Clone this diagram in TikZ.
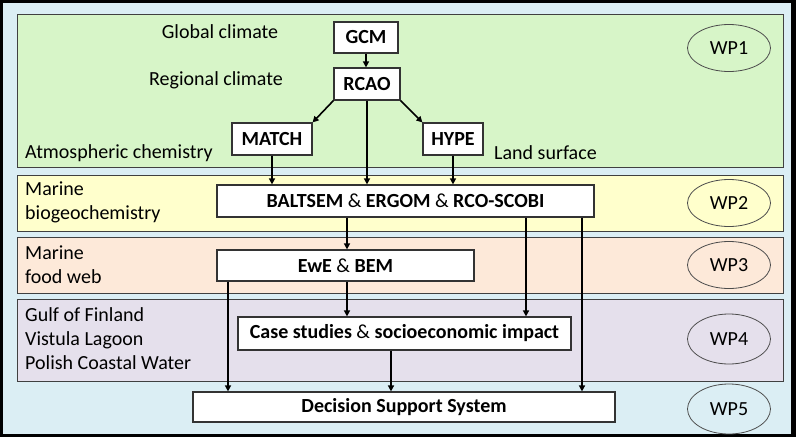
\documentclass[tikz,border=0pt]{standalone}
\usepackage{fontspec}
\setmainfont{Carlito}
\usetikzlibrary{arrows.meta,shapes.geometric}
\definecolor{bgblue}{RGB}{219,238,244}
\definecolor{wpgreen}{RGB}{215,245,200}
\definecolor{wpyellow}{RGB}{255,255,204}
\definecolor{wppeach}{RGB}{253,233,217}
\definecolor{wppurple}{RGB}{229,224,236}
\newcommand{\wpfont}{\fontsize{20}{24}\selectfont}
\tikzset{
	band/.style={draw=black!75, line width=0.8pt},
	model/.style={draw=black!80, fill=white, line width=1.2pt, font=\wpfont\bfseries, inner sep=0pt},
	wp/.style={ellipse, draw=black!70, line width=0.8pt, minimum width=83pt, minimum height=47pt, inner sep=0pt},
	flow/.style={line width=1.6pt, -{Triangle[length=6pt,width=6pt]}},
	lbl/.style={align=left, inner sep=0pt}
}

\begin{document}
\begin{tikzpicture}[x=1pt, y=-1pt, font=\wpfont]
		%%%%% START %%%%%
		
		\fill[black] (0, 0) rectangle (796, 437);
		\fill[bgblue] (3, 3) rectangle (791, 434);
		\useasboundingbox (0, 0) rectangle (796, 437);
		
		% work package bands
		\draw[band, fill=wpgreen] (17, 14) rectangle (783, 167);
		\draw[band, fill=wpyellow] (17, 175) rectangle (783, 231);
		\draw[band, fill=wppeach] (17, 237) rectangle (783, 293);
		\draw[band, fill=wppurple] (17, 299) rectangle (783, 381);
		
		\node[wp] (wp1) at (729, 48) {WP1};
		\node[wp] (wp2) at (729, 203) {WP2};
		\node[wp] (wp3) at (729, 265) {WP3};
		\node[wp, minimum height=50pt] (wp4) at (729, 339) {WP4};
		\node[wp, minimum height=50pt] (wp5) at (729, 409) {WP5};
		
		% labels
		\node[lbl] (globl) at (220, 32) {Global climate};
		\node[lbl] (regl) at (216, 80) {Regional climate};
		\node[lbl, anchor=west] (atml) at (25, 153) {Atmospheric chemistry};
		\node[lbl, anchor=west] (landl) at (494, 153) {Land surface};
		\node[lbl, anchor=west] (biol) at (25, 202) {Marine\\biogeochemistry};
		\node[lbl, anchor=west] (foodl) at (25, 265) {Marine\\food web};
		\node[lbl, anchor=west] (casel) at (25, 339) {Gulf of Finland\\Vistula Lagoon\\Polish Coastal Water};
		
		% models
		\node[model, minimum width=64pt, minimum height=31pt] (gcm) at (366, 37.5) {GCM};
		\node[model, minimum width=66pt, minimum height=32pt] (rcao) at (367, 84) {RCAO};
		\node[model, minimum width=80pt, minimum height=32pt] (match) at (272, 139) {MATCH};
		\node[model, minimum width=60pt, minimum height=32pt] (hype) at (453, 139) {HYPE};
		\node[model, minimum width=377pt, minimum height=32pt] (balt) at (405.5, 201) {BALTSEM {\mdseries\&} ERGOM {\mdseries\&} RCO-SCOBI};
		\node[model, minimum width=257pt, minimum height=31pt] (ewe) at (345.5, 265.5) {EwE {\mdseries\&} BEM};
		\node[model, minimum width=333pt, minimum height=33pt] (case) at (404.5, 333.5) {Case studies {\mdseries\&} socioeconomic impact};
		\node[model, minimum width=422pt, minimum height=30pt] (dss) at (404, 407) {Decision Support System};
		
		% columns of the long arrows
		\coordinate (colA) at (347, 0);
		\coordinate (colB) at (228, 0);
		\coordinate (colC) at (526, 0);
		\coordinate (colD) at (582, 0);
		\coordinate (colE) at (391, 0);
		
		\draw[flow] (gcm.south) -- (gcm.south |- rcao.north);
		\draw[flow] (rcao.south west) -- (match.north east);
		\draw[flow] (rcao.south east) -- (hype.north west);
		\draw[flow] (rcao.south) -- (rcao.south |- balt.north);
		\draw[flow] (match.south) -- (match.south |- balt.north);
		\draw[flow] (hype.south) -- (hype.south |- balt.north);
		
		\draw[flow] (balt.south -| colA) -- (ewe.north -| colA);
		\draw[flow] (balt.south -| colC) -- (case.north -| colC);
		\draw[flow] (balt.south -| colD) -- (dss.north -| colD);
		
		\draw[flow] (ewe.south -| colA) -- (case.north -| colA);
		\draw[flow] (ewe.south -| colB) -- (dss.north -| colB);
		\draw[flow] (case.south -| colE) -- (dss.north -| colE);
		
		%%%%% END %%%%%
\end{tikzpicture}
\end{document}
